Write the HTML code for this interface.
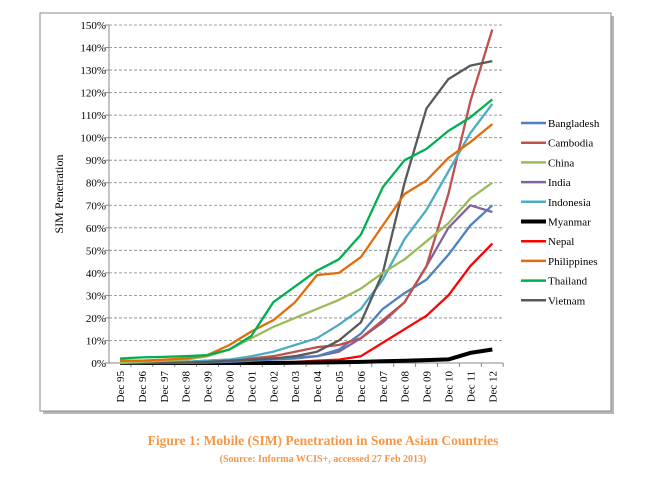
<!DOCTYPE html>
<html><head><meta charset="utf-8"><style>
body{margin:0;background:#fff;width:657px;height:494px;overflow:hidden;font-family:"Liberation Serif",serif}
</style></head><body>
<svg id="chart" width="657" height="494" xmlns="http://www.w3.org/2000/svg">
<rect x="43" y="16" width="571" height="398" fill="#b8b8b8"/>
<rect x="40" y="13" width="571" height="398" fill="#fff" stroke="#8a8a8a" stroke-width="1"/>
<g id="grid"></g><g id="axes"></g><g id="series"></g><g id="legend"></g>
<text transform="translate(63,194) rotate(-90)" text-anchor="middle" font-size="12" font-family="Liberation Serif, serif">SIM Penetration</text>
<text x="323" y="445" text-anchor="middle" font-size="13.5" font-weight="bold" fill="#f79646">Figure 1: Mobile (SIM) Penetration in Some Asian Countries</text>
<text x="323" y="462" text-anchor="middle" font-size="10" font-weight="bold" fill="#f79646">(Source: Informa WCIS+, accessed 27 Feb 2013)</text>
</svg>
<script>
const categories=["Dec 95","Dec 96","Dec 97","Dec 98","Dec 99","Dec 00","Dec 01","Dec 02","Dec 03","Dec 04","Dec 05","Dec 06","Dec 07","Dec 08","Dec 09","Dec 10","Dec 11","Dec 12"];
const yTicks=[0,10,20,30,40,50,60,70,80,90,100,110,120,130,140,150];
const seriesNames=["Bangladesh","Cambodia","China","India","Indonesia","Myanmar","Nepal","Philippines","Thailand","Vietnam"];
const seriesColors=["#4f81bd","#c0504d","#9bbb59","#8064a2","#4bacc6","#000000","#ff0000","#e36c09","#00b050","#595959"];
const bangladesh=[0,0,0,0,0.2,0.5,1,1.5,2,3,6,13,24,31,37,48,61,70];
const cambodia=[0,0,0.3,0.5,1,1.5,2,3,5,7,8,11,19,27,43,75,116,148];
const china=[0,0.5,1,1.5,3,6,11,16,20,24,28,33,40,46,54,62,73,80];
const india=[0,0,0.2,0.3,0.5,1,1.5,2,2.5,3,5,11,18,27,43,60,70,67];
const indonesia=[0,0,0.5,0.5,1,1.5,3,5,8,11,17,24,37,55,68,85,102,115];
const myanmar=[0,0,0,0,0,0,0,0,0.1,0.2,0.3,0.5,0.8,1,1.3,1.6,4.5,6];
const nepal=[0,0,0,0,0,0,0.2,0.3,0.5,1,1.5,3,9,15,21,30,43,53];
const philippines=[1,1,1.5,2,3.5,8,14,19,27,39,40,47,61,75,81,91,98,106];
const thailand=[2,2.5,2.7,3,3.5,6,12,27,34,41,46,57,78,90,95,103,109,117];
const vietnam=[0,0,0,0.2,0.5,1,1.5,2,3,5,10,18,40,80,113,126,132,134];
const seriesData=[bangladesh,cambodia,china,india,indonesia,myanmar,nepal,philippines,thailand,vietnam];
const drawOrder=[6,5,3,0,1,4,9,2,7,8];

const NS="http://www.w3.org/2000/svg";
const X0=109,BAND=21.9,Y0=363,YT=25;
const x=i=>X0+BAND*(i+0.5);
const y=v=>Y0-(v/150)*(Y0-YT);
function mk(t,a,p){const e=document.createElementNS(NS,t);for(const k in a)e.setAttribute(k,a[k]);p.appendChild(e);return e;}
const grid=document.getElementById('grid'),axes=document.getElementById('axes'),ser=document.getElementById('series'),leg=document.getElementById('legend');
const xEnd=X0+BAND*categories.length;
yTicks.forEach(t=>{
  if(t>0){const g=mk('line',{x1:X0,x2:xEnd,y1:y(t),y2:y(t),stroke:'#808080','stroke-width':0.8,'stroke-dasharray':'3,2'},grid);
  
  }
  const tk=mk('line',{x1:X0-4,x2:X0,y1:y(t),y2:y(t),stroke:'#888'},axes);
  
  
  const lb=mk('text',{x:X0-3,y:y(t)+4,'text-anchor':'end','font-size':11},axes);
  lb.textContent=t+'%';
  
  
});
const ya=mk('line',{x1:X0,x2:X0,y1:YT,y2:Y0,stroke:'#888'},axes);


const xa=mk('line',{x1:X0,x2:xEnd,y1:Y0,y2:Y0,stroke:'#888'},axes);


categories.forEach((c,i)=>{
  const tk=mk('line',{x1:X0+BAND*(i+1),x2:X0+BAND*(i+1),y1:Y0,y2:Y0+4,stroke:'#888'},axes);
  
  
  const lb=mk('text',{transform:`translate(${x(i)+4},${Y0+8}) rotate(-90)`,'text-anchor':'end','font-size':11},axes);
  lb.textContent=c;
  
  
});
drawOrder.forEach(s=>{
  const d=seriesData[s].map((v,i)=>(i?'L':'M')+x(i).toFixed(1)+','+y(v).toFixed(1)).join('');
  const p=mk('path',{d:d,fill:'none',stroke:seriesColors[s],'stroke-width':s===5?4:2.3,'stroke-linejoin':'round'},ser);
  
  
});
seriesNames.forEach((n,i)=>{
  const yy=123+i*19.7;
  const m=mk('line',{x1:521,x2:546,y1:yy,y2:yy,stroke:seriesColors[i],'stroke-width':i===5?4:2.5},leg);
  
  
  const t=mk('text',{x:548,y:yy+4,'font-size':11},leg);
  t.textContent=n;
  
  
});
</script>
</body></html>
